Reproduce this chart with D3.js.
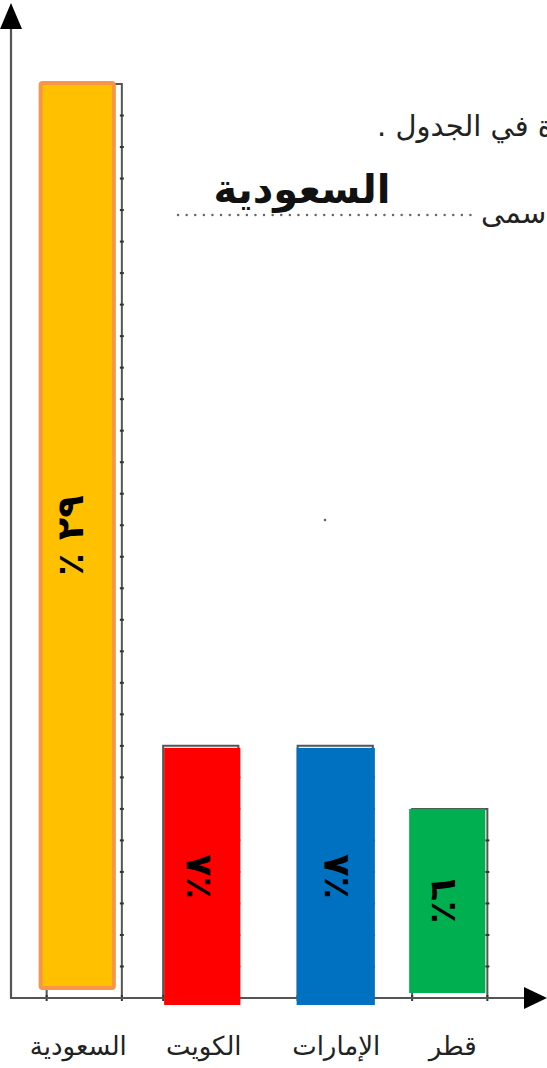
<!DOCTYPE html>
<html>
<head>
<meta charset="utf-8">
<script src="https://cdn.jsdelivr.net/npm/d3@7"></script>
<style>
  html, body { margin: 0; padding: 0; background: #fff; overflow: hidden; }
  svg { display: block; }
</style>
</head>
<body>
<div id="chart"></div>
<script>
// ---- data ----
const categories = ["السعودية", "الكويت", "الإمارات", "قطر"];
const values = [29, 8, 8, 6];
const valueLabels = ["٪ ٢٩", "٪٨", "٪٨", "٪٦"];
const fillColors = ["#FFC000", "#FF0000", "#0070C0", "#00B050"];
const headerLine1 = "ة في الجدول .";
const headerLine2 = "سمى";
const answerText = "السعودية";

// ---- layout ----
const W = 547, H = 1068;
const baseY = 998;
const svg = d3.select("#chart").append("svg").attr("width", W).attr("height", H);

const x = d3.scaleBand().domain(categories).range([22, 512]).paddingInner(0.386).paddingOuter(0.193);
const y = d3.scaleLinear().domain([0, 29]).range([baseY, 84]);

// per-bar style offsets (scan irregularities)
const frameDx = [1, -5, 7, -1];
const fillDx = [-7, -4, 6, -4];
const fillDw = [2, 1, 3, 1];
const fillTopDy = [-3, 2, 2, 0];
const fillBottom = [-8, 7, 7, -5];
const labelDx = [-6, -4, 0, -4];

const fontAr = "'DejaVu Sans', 'Noto Sans', sans-serif";

// header text fragments
svg.append("text")
  .attr("x", 377).attr("y", 136)
  .attr("direction", "rtl").attr("text-anchor", "end")
  .style("font-family", fontAr).style("font-size", "29px").attr("fill", "#222")
  .text(headerLine1);

svg.append("line")
  .attr("x1", 178).attr("x2", 476).attr("y1", 215).attr("y2", 215)
  .attr("stroke", "#666").attr("stroke-width", 2.4)
  .attr("stroke-linecap", "round").attr("stroke-dasharray", "0.1,8.5");

svg.append("text")
  .attr("x", 481).attr("y", 223)
  .attr("direction", "rtl").attr("text-anchor", "end")
  .style("font-family", fontAr).style("font-size", "29px").attr("fill", "#222")
  .text(headerLine2);

svg.append("text")
  .attr("x", 302).attr("y", 203)
  .attr("text-anchor", "middle")
  .style("font-family", fontAr).style("font-size", "40px").style("font-weight", "bold").attr("fill", "#111")
  .text(answerText);

// outlined bars (original frames) with unit ticks
const frames = svg.append("g");
categories.forEach((c, i) => {
  const x0 = x(c) + frameDx[i], bw = x.bandwidth(), top = y(values[i]);
  frames.append("path")
    .attr("d", `M${x0},${baseY}V${top}H${x0 + bw}V${baseY}`)
    .attr("fill", "none").attr("stroke", "#555").attr("stroke-width", 2);
  d3.range(1, values[i]).forEach(k => {
    frames.append("line")
      .attr("x1", x0 + bw - 2).attr("x2", x0 + bw + 2)
      .attr("y1", y(k)).attr("y2", y(k))
      .attr("stroke", "#333").attr("stroke-width", 2);
  });
  [x0, x0 + bw].forEach(xx => frames.append("line")
    .attr("x1", xx).attr("x2", xx).attr("y1", baseY - 3).attr("y2", baseY + 3)
    .attr("stroke", "#333").attr("stroke-width", 2));
});

// axes
svg.append("line").attr("x1", 11).attr("x2", 11).attr("y1", 25).attr("y2", baseY)
  .attr("stroke", "#555").attr("stroke-width", 2.2);
svg.append("line").attr("x1", 10).attr("x2", 528).attr("y1", baseY).attr("y2", baseY)
  .attr("stroke", "#555").attr("stroke-width", 2.2);
svg.append("path").attr("d", `M11,3L22,29L0,29Z`).attr("fill", "#000");
svg.append("path").attr("d", `M547,${baseY}L524,${baseY - 11}L524,${baseY + 11}Z`).attr("fill", "#000");

// coloured bars
const bars = svg.append("g");
categories.forEach((c, i) => {
  const x0 = x(c) + fillDx[i], bw = x.bandwidth() + fillDw[i];
  const top = y(values[i]) + fillTopDy[i], bot = baseY + fillBottom[i];
  const r = bars.append("rect")
    .attr("x", x0).attr("y", top).attr("width", bw).attr("height", bot - top)
    .attr("fill", fillColors[i]);
  if (i === 0) {
    r.attr("x", x0 + 2).attr("y", top + 2).attr("width", bw - 4).attr("height", bot - top - 4)
     .attr("stroke", "#F79646").attr("stroke-width", 4).attr("rx", 2);
  }
  const cx = x0 + bw / 2 + labelDx[i], cy = (top + bot) / 2;
  bars.append("text")
    .attr("transform", `translate(${cx + 12},${cy}) rotate(-90)`)
    .attr("text-anchor", "middle").attr("direction", "ltr")
    .style("font-family", fontAr).style("font-size", "37px").style("font-weight", "bold")
    .attr("fill", "#000")
    .text(valueLabels[i]);
});

// category labels
svg.append("g").selectAll("text").data(categories).join("text")
  .attr("x", (d, i) => x(d) + x.bandwidth() / 2 + [-5, -2, 8, 2][i])
  .attr("y", 1055)
  .attr("text-anchor", "middle")
  .style("font-family", fontAr).style("font-size", "26px").attr("fill", "#222")
  .text(d => d);

// stray mark from scan
svg.append("circle").attr("cx", 325).attr("cy", 520).attr("r", 1.3).attr("fill", "#666");
</script>
</body>
</html>
